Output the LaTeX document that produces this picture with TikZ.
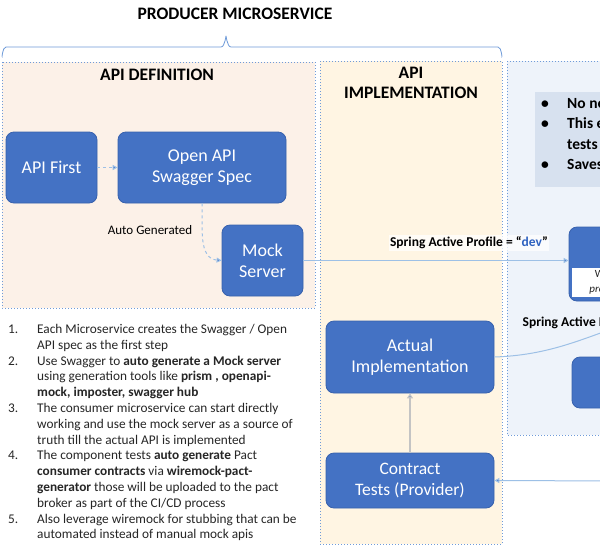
\documentclass[tikz,border=0pt]{standalone}
\usepackage{fontspec}
\setmainfont{Carlito}
\usetikzlibrary{arrows.meta}
\definecolor{nblue}{HTML}{4472C4}
\definecolor{nborder}{HTML}{3761AD}
\definecolor{cborder}{HTML}{6F9BD9}
\definecolor{peach}{HTML}{FCF1E8}
\definecolor{yel}{HTML}{FFF5E3}
\definecolor{lblue}{HTML}{EEF3FA}
\definecolor{bbox}{HTML}{D7E1EF}
\definecolor{connc}{HTML}{9DC0E6}
\definecolor{devblue}{HTML}{2E62C0}
\definecolor{txtgray}{HTML}{262626}
\definecolor{lgray}{HTML}{C4C4C4}
\tikzset{
  container/.style={draw=cborder, line width=1pt, dotted},
  hdr/.style={font=\fontsize{17.5}{20}\selectfont\bfseries, text=black, align=center, inner sep=0pt},
  box/.style={rectangle, rounded corners=8pt, fill=nblue, draw=nborder, line width=0.8pt, text=white,
    font=\fontsize{18}{21}\selectfont, align=center, inner sep=0pt},
  conn/.style={draw=connc, line width=1pt, -{Triangle[length=5pt,width=5pt,fill=nblue]}},
  dconn/.style={conn, dashed},
  lbl/.style={font=\fontsize{13.5}{15}\selectfont\bfseries, text=black, inner sep=1.5pt},
}
\begin{document}
\begin{tikzpicture}[x=1pt,y=-1pt]
\useasboundingbox (0,0) rectangle (600,550);
\clip (0,0) rectangle (600,550);
\fill[white] (0,0) rectangle (600,550);

% containers
\draw[container, fill=peach] (2,62) rectangle (315,308);
\draw[container, fill=yel] (320,61) rectangle (502,544);
\draw[container, fill=lblue] (507,61) rectangle (660,435);
\fill[bbox] (535,92) rectangle (680,187);

% brace
\draw[cborder, line width=0.8pt] (2,56) to[out=-90,in=180] (6,47) -- (221,47)
  to[out=0,in=90] (226,37) to[out=90,in=180] (231,47) -- (498,47) to[out=0,in=-90] (502,56);

% headings
\node[hdr] (title) at (235,14) {PRODUCER MICROSERVICE};
\node[hdr] (deft) at (157,75) {API DEFINITION};
\node[hdr] (implt) at (411,83) {API\\IMPLEMENTATION};

% bullets
\node[anchor=north west, align=left, inner sep=0pt, font=\fontsize{15.5}{20.5}\selectfont\bfseries, text=black] (bul) at (541,97)
  {\makebox[26pt][l]{•}No need to wait for the provider\\
   \makebox[26pt][l]{•}This enables component\\
   \makebox[26pt][l]{}tests\\
   \makebox[26pt][l]{•}Saves time};

% nodes
\node[box, minimum width=91pt, minimum height=71pt] (apifirst) at (51.5,167.5) {API First};
\node[box, minimum width=168pt, minimum height=71pt] (openapi) at (202,167.5) {Open API\\Swagger Spec};
\node[box, minimum width=81pt, minimum height=71pt] (mock) at (262.5,260.5) {Mock\\Server};
\node[box, minimum width=168pt, minimum height=72pt] (actual) at (410,357) {Actual\\Implementation};
\node[box, minimum width=168pt, minimum height=55pt, font=\fontsize{17.5}{21}\selectfont] (contract) at (410,480.5) {Contract\\Tests (Provider)};
\node[box, minimum width=104pt, minimum height=74pt] (wm) at (621,264) {};
\fill[white] (572,268) rectangle (690,297);
\node[font=\fontsize{11}{15}\selectfont, text=txtgray, align=center, inner sep=0pt] (wmtxt) at (618,282) {WireMock\\\textit{project stubs}};
\node[box, minimum width=98pt, minimum height=51pt] (rn2) at (621,382.5) {Tests};

% connectors
\draw[dconn] (apifirst) -- (openapi);
\draw[dconn] (openapi.south) to[out=-88,in=175] (mock.west);
\node[font=\fontsize{13}{15}\selectfont, text=black, inner sep=0pt] (autog) at (150,230) {Auto Generated};

\draw[conn] (mock.east) -- (mock.east -| wm.west);
\node[lbl, fill=white, fill opacity=0.75, text opacity=1] (sap1) at (469,243) {Spring Active Profile = “\textcolor{devblue}{dev}”};
\node[lbl, anchor=west] (sap2) at (521,323) {Spring Active Profile = “test”};

\coordinate (rc1) at (650,316);
\draw[draw=connc, line width=1pt] (actual.east) to[out=2,in=197] (rc1);

\draw[lgray, line width=1.5pt, -{Triangle[length=5pt,width=6pt,fill=nblue]}] (contract.north) -- (actual.south);

\coordinate (rc2) at (620,481);
\draw[conn] (rc2) -- (contract.east);

% numbered list
\node[anchor=north west, align=left, inner sep=0pt, text=txtgray, font=\fontsize{13.3}{15.8}\selectfont] (list) at (8,324)
{\makebox[29pt][l]{1.}Each Microservice creates the Swagger / Open\\
 \hspace*{29pt}API spec as the first step\\
 \makebox[29pt][l]{2.}Use Swagger to \textbf{auto generate a Mock server}\\
 \hspace*{29pt}using generation tools like \textbf{prism , openapi-}\\
 \hspace*{29pt}\textbf{mock, imposter, swagger hub}\\
 \makebox[29pt][l]{3.}The consumer microservice can start directly\\
 \hspace*{29pt}working and use the mock server as a source of\\
 \hspace*{29pt}truth till the actual API is implemented\\
 \makebox[29pt][l]{4.}The component tests \textbf{auto generate} Pact\\
 \hspace*{29pt}\textbf{consumer contracts} via \textbf{wiremock-pact-}\\
 \hspace*{29pt}\textbf{generator} those will be uploaded to the pact\\
 \hspace*{29pt}broker as part of the CI/CD process\\
 \makebox[29pt][l]{5.}Also leverage wiremock for stubbing that can be\\
 \hspace*{29pt}automated instead of manual mock apis};
\end{tikzpicture}
\end{document}
